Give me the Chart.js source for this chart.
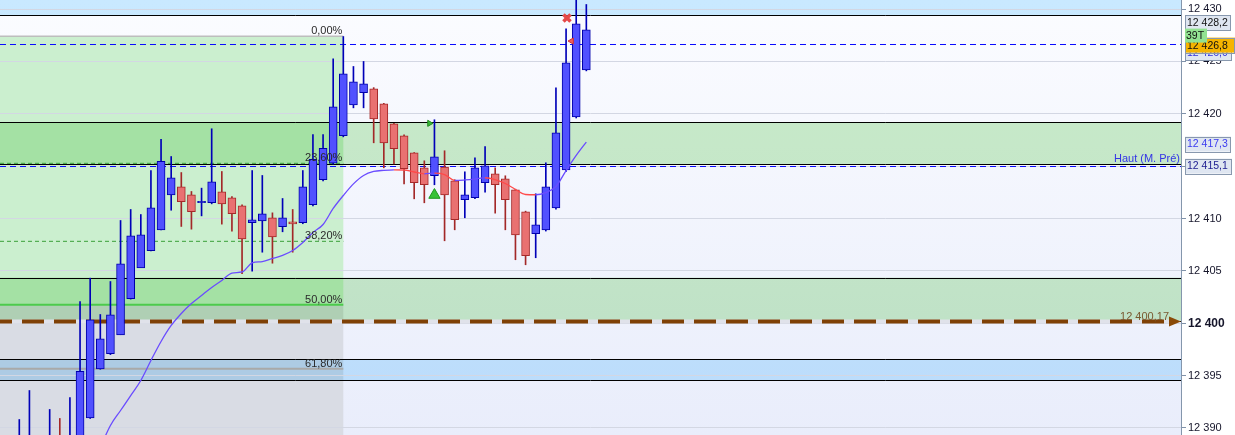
<!DOCTYPE html>
<html>
<head>
<meta charset="utf-8">
<script src="https://cdn.jsdelivr.net/npm/chart.js@4.4.1/dist/chart.umd.min.js"></script>
<style>
html, body { margin: 0; padding: 0; background: #fff; }
#wrap { width: 1235px; height: 435px; }
</style>
</head>
<body>
<div id="wrap"><canvas id="graph" width="1235" height="435"></canvas></div>
<script>
// bougies (index 0 = premiere bougie visible a gauche)
var ouvertures = [
    12386.5, 12387.0, 12386.0, 12386.0, 12388.8, 12386.5, 12388.0, 12390.96, 12395.64, 12397.08,
    12398.89, 12402.33, 12405.29, 12406.92, 12408.92, 12412.26, 12413.03, 12412.26, 12411.5, 12411.5,
    12412.55, 12411.98, 12411.21, 12409.59, 12409.78, 12410.07, 12409.21, 12409.68, 12409.59, 12411.31,
    12413.7, 12415.28, 12417.9, 12420.86, 12422.01, 12422.39, 12420.95, 12419.04, 12417.9, 12416.27,
    12414.84, 12414.08, 12414.92, 12413.6, 12411.79, 12411.98, 12413.41, 12414.27, 12413.79, 12412.74,
    12410.64, 12408.54, 12408.92, 12411.02, 12414.65, 12419.71, 12424.2
];
var plusHauts = [
    12390.8, 12393.57, 12389.0, 12391.76, 12390.9, 12392.9, 12402.07, 12404.3, 12400.83, 12403.98,
    12409.81, 12410.86, 12410.38, 12414.58, 12417.55, 12415.92, 12414.39, 12412.58, 12412.9, 12418.57,
    12414.49, 12412.1, 12411.3, 12414.58, 12414.11, 12410.54, 12411.91, 12410.86, 12414.58, 12418.02,
    12418.02, 12425.25, 12427.38, 12424.52, 12425.0, 12422.5, 12421.0, 12419.1, 12418.0, 12416.3,
    12415.51, 12419.43, 12416.47, 12413.7, 12414.46, 12415.8, 12416.88, 12414.84, 12414.08, 12412.8,
    12410.7, 12412.36, 12415.32, 12422.48, 12428.12, 12431.5, 12430.44
];
var plusBas = [
    12385.0, 12386.0, 12384.0, 12385.0, 12385.0, 12385.0, 12387.0, 12390.9, 12395.6, 12397.0,
    12398.9, 12402.3, 12405.3, 12406.9, 12408.9, 12410.79, 12409.24, 12408.98, 12410.25, 12411.4,
    12409.46, 12408.79, 12404.72, 12404.97, 12406.78, 12405.73, 12408.73, 12406.78, 12409.5, 12411.2,
    12413.6, 12415.2, 12417.8, 12420.57, 12420.57, 12417.23, 12414.84, 12415.22, 12413.31, 12411.88,
    12411.5, 12413.22, 12407.87, 12408.92, 12410.07, 12411.9, 12412.51, 12410.51, 12408.92, 12406.06,
    12405.58, 12406.25, 12408.8, 12410.9, 12414.5, 12419.6, 12424.1
];
var clotures = [
    12388.5, 12389.0, 12388.0, 12388.5, 12386.0, 12389.0, 12395.39, 12400.32, 12398.51, 12400.8,
    12405.67, 12408.35, 12408.44, 12411.02, 12415.47, 12413.89, 12411.6, 12410.64, 12411.65, 12413.51,
    12411.4, 12410.45, 12408.06, 12409.88, 12410.45, 12408.25, 12410.07, 12409.49, 12413.03, 12415.64,
    12416.69, 12420.67, 12423.82, 12423.06, 12422.87, 12419.52, 12417.23, 12416.66, 12414.75, 12413.41,
    12413.22, 12415.89, 12412.26, 12409.88, 12412.26, 12414.84, 12415.03, 12413.22, 12411.79, 12408.44,
    12406.44, 12409.4, 12413.03, 12418.19, 12424.87, 12428.6, 12428.02
];

// moyenne mobile, commence a la bougie 7
var mmDebut = 7;
var mmValeurs = [
    12385.9, 12388.13, 12390.23, 12391.66, 12393.09, 12394.53, 12396.44, 12398.25, 12399.78, 12400.93,
    12401.88, 12402.65, 12403.41, 12404.08, 12404.79, 12404.89, 12405.77, 12405.89, 12406.18, 12406.47,
    12406.94, 12407.71, 12408.66, 12409.43, 12410.96, 12412.2, 12413.31, 12414.11, 12414.49, 12414.6,
    12414.65, 12414.63, 12414.44, 12414.27, 12414.33, 12414.2, 12413.63, 12413.68, 12413.77, 12413.89,
    12413.72, 12413.34, 12412.77, 12412.29, 12412.27, 12412.48, 12413.06, 12414.58, 12416.02, 12417.3
];

var ticksPrix = [12390, 12395, 12400, 12405, 12410, 12415, 12420, 12425, 12430];

// retracement de Fibonacci
var fiboTextes = ['0,00%', '23,60%', '38,20%', '50,00%', '61,80%'];
var fiboPrix = [12427.4, 12415.27, 12407.82, 12401.77, 12395.65];
var fiboFinBougie = 32;

// zones support / resistance
var zonesBas = [12429.4, 12415.2, 12400.24, 12394.55];
var zonesHaut = [12440, 12419.2, 12404.35, 12396.55];
var zonesType = ['bleu', 'vert', 'vert', 'bleu'];

var niveauxPointilles = [12426.67, 12415.05];
var niveauPivot = 12400.17;
var textePivot = '12 400,17';
var texteHaut = 'Haut (M. Pré)';

// signaux
var venteX = [54.09], venteY = [12429.15];
var flecheRougeX = [54.54], flecheRougeY = [12426.95];
var achatX = [41.0], achatY = [12412.24];
var flecheVerteX = [40.51], flecheVerteY = [12419.09];

// etiquettes de l'axe
var etiquettesPrix = [12426.0, 12426.8, 12428.2, 12417.3, 12415.1];
var etiquettesTexte = ['12 426,0', '12 426,8', '12 428,2', '12 417,3', '12 415,1'];
var texteTicks = '39T';

function formatPrix(v) {
    return String(v).replace(/\B(?=(\d{3})+(?!\d))/g, ' ');
}

var corps = [], meches = [], couleursCorps = [], bordsCorps = [], couleursMeches = [];
for (var i = 0; i < ouvertures.length; i++) {
    var hausse = clotures[i] >= ouvertures[i];
    corps.push({ x: i, y: [ouvertures[i], clotures[i]] });
    meches.push({ x: i, y: [plusBas[i], plusHauts[i]] });
    couleursCorps.push(hausse ? '#5151ff' : '#e97171');
    bordsCorps.push(hausse ? '#0000aa' : '#a52a2a');
    couleursMeches.push(hausse ? '#0000b8' : '#a32828');
}
var mm = [];
for (var j = 0; j < mmValeurs.length; j++) {
    mm.push({ x: mmDebut + j, y: mmValeurs[j] });
}
function points(xs, ys) {
    return xs.map(function (v, k) { return { x: v, y: ys[k] }; });
}

var police = '"Liberation Sans", Arial, sans-serif';

var decor = {
    id: 'decor',
    beforeDraw: function (chart) {
        var c = chart.ctx, a = chart.chartArea, sx = chart.scales.x, sy = chart.scales.y;
        c.save();
        c.fillStyle = '#ffffff';
        c.fillRect(0, 0, chart.width, chart.height);
        var g = c.createLinearGradient(0, a.top, 0, a.bottom);
        g.addColorStop(0, '#fbfcff');
        g.addColorStop(1, '#e9edfb');
        c.fillStyle = g;
        c.fillRect(a.left, a.top, a.right - a.left, a.bottom - a.top);

        var fx = sx.getPixelForValue(fiboFinBougie);
        var f0 = sy.getPixelForValue(fiboPrix[0]);
        var f50 = sy.getPixelForValue(fiboPrix[3]);
        c.fillStyle = '#cbefcf';
        c.fillRect(a.left, f0, fx - a.left, f50 - f0);
        c.fillStyle = '#d9dce4';
        c.fillRect(a.left, f50, fx - a.left, a.bottom - f50);

        c.globalCompositeOperation = 'multiply';
        for (var z = 0; z < zonesBas.length; z++) {
            var yt = Math.max(a.top, sy.getPixelForValue(zonesHaut[z]));
            var yb = Math.min(a.bottom, sy.getPixelForValue(zonesBas[z]));
            c.fillStyle = zonesType[z] === 'bleu' ? 'rgb(204,236,255)' : 'rgb(206,240,202)';
            c.fillRect(a.left, yt, a.right - a.left, yb - yt);
        }
        c.restore();
    },
    beforeDatasetsDraw: function (chart) {
        var c = chart.ctx, a = chart.chartArea, sx = chart.scales.x, sy = chart.scales.y;
        var fx = sx.getPixelForValue(fiboFinBougie);
        c.save();
        c.beginPath();
        c.rect(a.left, a.top, a.right - a.left, a.bottom - a.top);
        c.clip();

        function ligne(x0, x1, py, couleur, largeur, tirets) {
            c.beginPath();
            c.setLineDash(tirets || []);
            c.strokeStyle = couleur;
            c.lineWidth = largeur;
            c.moveTo(x0, py);
            c.lineTo(x1, py);
            c.stroke();
        }

        // niveaux fibo
        var styles = [['#bdbdbd', 1.5, []], ['#3aa03a', 1, [4, 3]], ['#3aa03a', 1, [4, 3]], ['#4ccb4c', 2, []], ['#a9a9a9', 2, []]];
        for (var f = 0; f < fiboPrix.length; f++) {
            var s = styles[f];
            ligne(a.left, fx, sy.getPixelForValue(fiboPrix[f]), s[0], s[1], s[2]);
        }

        // bords des zones
        for (var z = 0; z < zonesBas.length; z++) {
            [zonesBas[z], zonesHaut[z]].forEach(function (v) {
                var py = Math.round(sy.getPixelForValue(v)) + 0.5;
                if (py > a.top && py < a.bottom) ligne(a.left, a.right, py, '#000000', 1);
            });
        }

        // pointilles bleus
        niveauxPointilles.forEach(function (v) {
            ligne(a.left, a.right, Math.round(sy.getPixelForValue(v)) + 0.5, '#0a0aff', 1, [6, 4]);
        });

        // pivot marron
        var pp = sy.getPixelForValue(niveauPivot);
        var finPivot = a.right - 12;
        ligne(a.left, finPivot, pp, '#e0e2ea', 4);
        c.lineDashOffset = 10;
        ligne(a.left, finPivot, pp, '#7f4106', 4, [22, 10]);
        c.lineDashOffset = 0;
        c.setLineDash([]);
        c.fillStyle = '#8a4a08';
        c.beginPath();
        c.moveTo(finPivot, pp - 5);
        c.lineTo(a.right, pp);
        c.lineTo(finPivot, pp + 5);
        c.closePath();
        c.fill();
        c.restore();
    },
    afterDatasetsDraw: function (chart) {
        var c = chart.ctx, a = chart.chartArea, sx = chart.scales.x, sy = chart.scales.y;
        var fx = sx.getPixelForValue(fiboFinBougie);
        c.save();
        c.font = '11px ' + police;
        c.textAlign = 'right';
        c.textBaseline = 'alphabetic';
        c.fillStyle = '#2b2b2b';
        for (var f = 0; f < fiboPrix.length; f++) {
            c.fillText(fiboTextes[f], fx - 1, sy.getPixelForValue(fiboPrix[f]) - 2);
        }
        c.fillStyle = '#7a5a32';
        c.fillText(textePivot, a.right - 12, sy.getPixelForValue(niveauPivot) - 1);
        c.fillStyle = '#3434e6';
        c.fillText(texteHaut, a.right - 1, sy.getPixelForValue(niveauxPointilles[1]) - 4);
        c.restore();
    },
    afterDraw: function (chart) {
        var c = chart.ctx, a = chart.chartArea, sy = chart.scales.y;
        var x0 = a.right + 4;
        c.save();
        c.font = '10.5px ' + police;
        c.textBaseline = 'middle';
        c.textAlign = 'left';
        function boite(yc, largeur, fond, bord, texte, couleur) {
            c.fillStyle = fond;
            c.fillRect(x0, yc - 7.5, largeur, 15);
            c.strokeStyle = bord;
            c.lineWidth = 1;
            c.strokeRect(x0 + 0.5, Math.round(yc - 7.5) + 0.5, largeur - 1, 15);
            c.fillStyle = couleur;
            c.fillText(texte, x0 + 2, yc + 0.5);
        }
        var decal = [1.5, 2.5, -5, 2, 1];
        var largeurs = [47, 50, 46, 46, 47];
        var fonds = ['#dfe6f1', '#f5b400', '#dfe6f1', '#dfe6f1', '#dfe6f1'];
        var textes = ['#3030e0', '#111111', '#111111', '#3a3af0', '#1c1c90'];
        for (var e = 0; e < etiquettesPrix.length; e++) {
            boite(sy.getPixelForValue(etiquettesPrix[e]) + decal[e], largeurs[e], fonds[e], '#8898ae', etiquettesTexte[e], textes[e]);
        }
        var yT = sy.getPixelForValue(etiquettesPrix[1]) - 7;
        c.fillStyle = '#92e292';
        c.fillRect(x0, yT - 7, 22, 14);
        c.fillStyle = '#111111';
        c.fillText(texteTicks, x0 + 1, yT);
        c.restore();
    }
};

new Chart(document.getElementById('graph'), {
    type: 'bar',
    data: {
        datasets: [
            {
                type: 'scatter', data: points(venteX, venteY), pointStyle: 'crossRot', pointRadius: 5,
                borderColor: '#e54848', borderWidth: 3.5, backgroundColor: '#e54848', order: 0
            },
            {
                type: 'scatter', data: points(flecheRougeX, flecheRougeY), pointStyle: 'triangle', rotation: 270,
                pointRadius: 3.5, borderColor: '#d03030', backgroundColor: '#f06060', borderWidth: 1, order: 0
            },
            {
                type: 'scatter', data: points(achatX, achatY), pointStyle: 'triangle', pointRadius: 6.5,
                borderColor: '#1e9a1e', backgroundColor: '#38c238', borderWidth: 1, order: 0
            },
            {
                type: 'scatter', data: points(flecheVerteX, flecheVerteY), pointStyle: 'triangle', rotation: 90,
                pointRadius: 3.5, borderColor: '#1e8a1e', backgroundColor: '#38b838', borderWidth: 1, order: 0
            },
            {
                type: 'line', data: mm, borderColor: '#6a4cff', borderWidth: 1.3, pointRadius: 0,
                cubicInterpolationMode: 'monotone', order: 1,
                segment: {
                    borderColor: function (ctx) {
                        return ctx.p1.parsed.y < ctx.p0.parsed.y ? '#ff4a4a' : '#6a4cff';
                    }
                }
            },
            {
                data: corps, backgroundColor: couleursCorps, borderColor: bordsCorps, borderWidth: 1,
                borderSkipped: false, barThickness: 8, grouped: false, order: 2
            },
            {
                data: meches, backgroundColor: couleursMeches, borderWidth: 0,
                barThickness: 1, grouped: false, order: 3
            }
        ]
    },
    options: {
        responsive: false,
        animation: false,
        devicePixelRatio: 1,
        layout: { padding: 0, autoPadding: false },
        plugins: { legend: { display: false }, tooltip: { enabled: false } },
        scales: {
            x: { type: 'linear', min: -1.906, max: 114.73, display: false, offset: false },
            y: {
                position: 'right',
                min: 12389.32,
                max: 12430.87,
                beginAtZero: false,
                afterFit: function (s) {
                    s.width = 54;
                    s.paddingTop = 0;
                    s.paddingBottom = 0;
                },
                afterBuildTicks: function (s) {
                    s.ticks = ticksPrix.map(function (v) { return { value: v }; });
                },
                grid: { color: '#d3d7e3', tickColor: '#8092aa', tickLength: 5 },
                border: { color: '#8496ac' },
                ticks: {
                    padding: 2,
                    color: '#15152a',
                    font: function (ctx) {
                        if (ctx.tick && ctx.tick.value === 12400) {
                            return { family: police, size: 12, weight: 'bold' };
                        }
                        return { family: police, size: 11 };
                    },
                    callback: function (v) { return formatPrix(v); }
                }
            }
        }
    },
    plugins: [decor]
});
</script>
</body>
</html>
